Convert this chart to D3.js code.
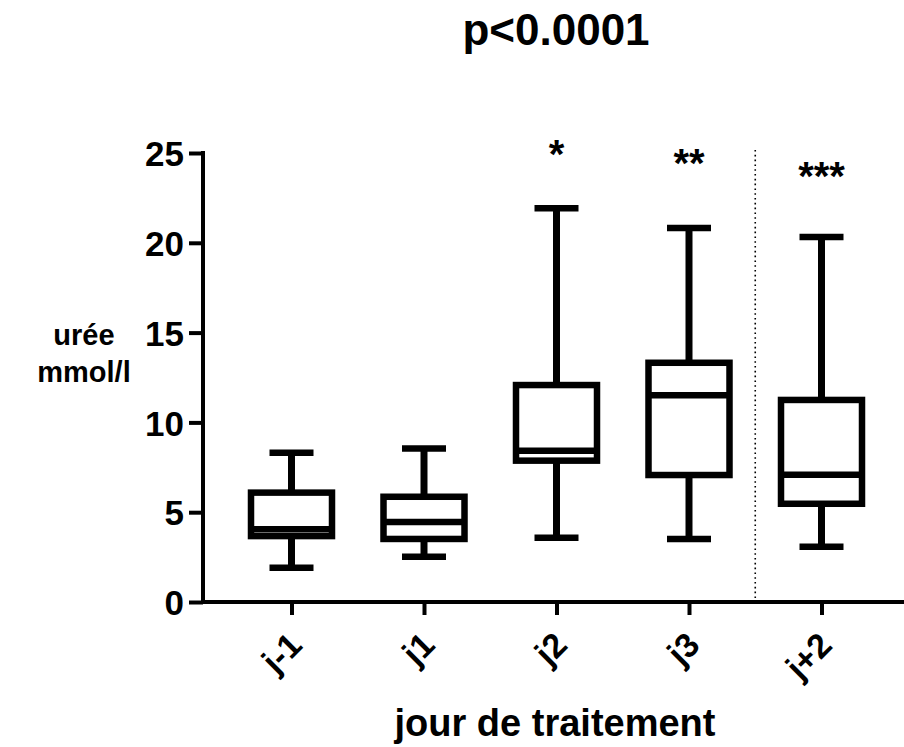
<!DOCTYPE html>
<html>
<head>
<meta charset="utf-8">
<script src="https://cdn.jsdelivr.net/npm/d3@7/dist/d3.min.js"></script>
<style>
  html, body { margin: 0; padding: 0; background: #fff; }
  svg { display: block; }
  text { font-family: "Liberation Sans", Arial, sans-serif; font-weight: bold; fill: #000; }
</style>
</head>
<body>
<script>
// ---- data ----
const categories = ["j-1", "j1", "j2", "j3", "j+2"];
const whiskerMin = [1.91, 2.52, 3.58, 3.51, 3.08];
const q1 = [3.67, 3.51, 7.87, 7.07, 5.47];
const median = [4.05, 4.45, 8.42, 11.51, 7.09];
const q3 = [6.09, 5.86, 12.08, 13.32, 11.25];
const whiskerMax = [8.31, 8.54, 21.92, 20.82, 20.32];
const significance = ["", "", "*", "**", "***"];
const yTicks = [0, 5, 10, 15, 20, 25];
const title = "p<0.0001";
const xTitle = "jour de traitement";
const yTitle = ["urée", "mmol/l"];

// ---- layout ----
const W = 904, H = 747;
const svg = d3.select("body").append("svg").attr("width", W).attr("height", H);

const y = d3.scaleLinear().domain([0, 25]).range([602, 153]);
const x = d3.scalePoint().domain(categories).range([291.5, 821.5]);

const axisLeft = 203;
const lw = 4;
const FONT = "Liberation Sans, Arial, sans-serif";

// y axis
const yAxis = svg.append("g").attr("transform", `translate(${axisLeft},0)`)
  .call(d3.axisLeft(y).tickValues(yTicks).tickSize(14).tickPadding(5).tickFormat(d3.format("d")));
yAxis.select(".domain").attr("stroke", "#000").attr("stroke-width", lw)
  .attr("d", `M0,${y(0) + lw / 2}V${y(25) - lw / 2}`);
yAxis.selectAll(".tick line").attr("stroke", "#000").attr("stroke-width", lw);
yAxis.selectAll(".tick text").attr("font-size", 35).attr("fill", "#000")
  .attr("font-family", FONT).attr("font-weight", "bold")
  .attr("dy", "0.36em");

// x axis
const xAxis = svg.append("g").attr("transform", `translate(0,${y(0)})`)
  .call(d3.axisBottom(x).tickSize(13).tickPadding(0));
xAxis.select(".domain").attr("stroke", "#000").attr("stroke-width", lw)
  .attr("d", `M${axisLeft - lw / 2},0H${W}`);
xAxis.selectAll(".tick line").attr("stroke", "#000").attr("stroke-width", lw);
xAxis.selectAll(".tick text")
  .attr("font-size", 34).attr("fill", "#000")
  .attr("font-family", FONT).attr("font-weight", "bold")
  .attr("text-anchor", "end")
  .attr("dy", null)
  .attr("y", null)
  .attr("transform", "translate(12,45) rotate(-45)");

// separator dotted line
const sepX = (x("j3") + x("j+2")) / 2;
svg.append("line")
  .attr("x1", sepX).attr("x2", sepX)
  .attr("y1", y(25) - 3).attr("y2", y(0) - 2)
  .attr("stroke", "#000").attr("stroke-width", 1.6)
  .attr("stroke-dasharray", "1.6,3.2");

// boxes
const boxW = 81, capW = 44, sw = 6.5;
const data = categories.map((c, i) => ({
  c, lo: whiskerMin[i], q1: q1[i], med: median[i], q3: q3[i], hi: whiskerMax[i], sig: significance[i]
}));

const g = svg.append("g");
data.forEach(d => {
  const cx = x(d.c);
  g.append("line").attr("x1", cx).attr("x2", cx).attr("y1", y(d.hi)).attr("y2", y(d.q3))
    .attr("stroke", "#000").attr("stroke-width", 7);
  g.append("line").attr("x1", cx).attr("x2", cx).attr("y1", y(d.q1)).attr("y2", y(d.lo))
    .attr("stroke", "#000").attr("stroke-width", 7);
  [d.hi, d.lo].forEach(v => {
    g.append("line").attr("x1", cx - capW / 2).attr("x2", cx + capW / 2)
      .attr("y1", y(v)).attr("y2", y(v))
      .attr("stroke", "#000").attr("stroke-width", sw);
  });
  g.append("rect").attr("x", cx - boxW / 2).attr("width", boxW)
    .attr("y", y(d.q3)).attr("height", y(d.q1) - y(d.q3))
    .attr("fill", "#fff").attr("stroke", "#000").attr("stroke-width", sw);
  g.append("line").attr("x1", cx - boxW / 2).attr("x2", cx + boxW / 2)
    .attr("y1", y(d.med)).attr("y2", y(d.med))
    .attr("stroke", "#000").attr("stroke-width", sw);
});

// significance asterisks
const sigBaseline = { "*": 168, "**": 177, "***": 190 };
data.filter(d => d.sig).forEach(d => {
  svg.append("text").attr("x", x(d.c)).attr("y", sigBaseline[d.sig])
    .attr("text-anchor", "middle").attr("font-size", 40)
    .attr("font-family", FONT)
    .text(d.sig);
});

// title
svg.append("text").attr("x", 556).attr("y", 45).attr("text-anchor", "middle")
  .attr("font-size", 44).text(title);

// x title
svg.append("text").attr("x", 555).attr("y", 736).attr("text-anchor", "middle")
  .attr("font-size", 38).text(xTitle);

// y title
svg.append("text").attr("x", 84).attr("y", 345).attr("text-anchor", "middle")
  .attr("font-size", 29).text(yTitle[0]);
svg.append("text").attr("x", 84).attr("y", 382).attr("text-anchor", "middle")
  .attr("font-size", 29).text(yTitle[1]);
</script>
</body>
</html>
